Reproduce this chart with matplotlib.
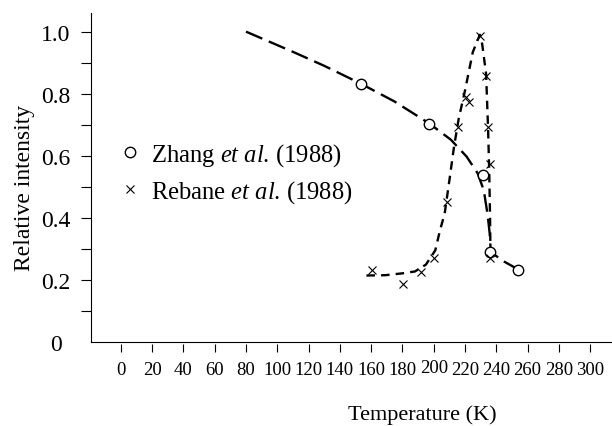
import matplotlib
matplotlib.use('Agg')
import matplotlib.pyplot as plt
import matplotlib.transforms as mtransforms

plt.rcParams['font.family'] = ['Liberation Serif', 'DejaVu Serif']
plt.rcParams['mathtext.fontset'] = 'custom'
plt.rcParams['mathtext.rm'] = 'Liberation Serif'
plt.rcParams['mathtext.it'] = 'Liberation Serif:italic'

# measured points
zhang_t = [153.6, 197.3, 231.4, 236.0, 254.2]
zhang_i = [0.832, 0.704, 0.538, 0.291, 0.234]
rebane_t = [160.7, 180.4, 191.9, 199.9, 208.6, 215.5, 220.8, 222.5, 229.7,
            233.4, 234.7, 235.7, 236.0]
rebane_i = [0.232, 0.187, 0.226, 0.272, 0.452, 0.693, 0.789, 0.773, 0.985,
            0.857, 0.693, 0.575, 0.272]

# hand-drawn guide curves
zhang_curve_t = [80, 110, 130, 153.6, 175, 197.3, 211, 221, 228, 232, 234.5,
                 235.8, 236.5, 245, 254.2]
zhang_curve_i = [1.0, 0.935, 0.89, 0.832, 0.775, 0.704, 0.652, 0.598, 0.545,
                 0.49, 0.41, 0.35, 0.29, 0.26, 0.234]
rebane_curve_t = [157, 169, 180, 188, 195, 201, 204, 207, 210, 213, 216, 220,
                  225, 229.5, 231, 233.5, 234.8, 235.5, 236, 236.3]
rebane_curve_i = [0.215, 0.216, 0.222, 0.228, 0.25, 0.296, 0.36, 0.414, 0.52,
                  0.63, 0.72, 0.81, 0.934, 0.99, 0.96, 0.864, 0.683, 0.55,
                  0.414, 0.29]

x_ticks = list(range(0, 301, 20))
y_major = [0, 0.2, 0.4, 0.6, 0.8, 1.0]
y_labels = ['0', '0.2', '0.4', '0.6', '0.8', '1.0']
y_minor = [0.1, 0.3, 0.5, 0.7, 0.9]

fig = plt.figure(figsize=(6.12, 4.27), dpi=100)
ax = fig.add_axes([90.7 / 612, 1 - 343.3 / 427, 1 - 90.7 / 612, (343.3 - 14) / 427])

ax.plot(zhang_curve_t, zhang_curve_i, color='black', lw=1.7,
        linestyle=(0, (7.5, 3.0)))
ax.plot(rebane_curve_t, rebane_curve_i, color='black', lw=1.7,
        linestyle=(0, (3.6, 2.6)))
ax.plot(zhang_t, zhang_i, 'o', color='black', mfc='white', ms=7.5, mew=1.0,
        label=r'Zhang $\mathit{et\ al}$. (1988)')
ax.plot(rebane_t, rebane_i, 'x', color='black', ms=6, mew=0.8,
        label=r'Rebane $\mathit{et\ al}$. (1988)')

ax.set_xlim(-19.3, 314)
ax.set_ylim(0, 1.06)

for s in ['top', 'right']:
    ax.spines[s].set_visible(False)
ax.spines['left'].set_linewidth(0.8)
ax.spines['bottom'].set_visible(False)
ax.spines['bottom'].set_position(('outward', 1.5))
ax.axhline(0, color='black', lw=0.8, clip_on=False)

ax.set_xticks(x_ticks)
ax.set_xticklabels([str(t) for t in x_ticks])
ax.tick_params(axis='x', direction='out', length=6, width=0.8, pad=6.0,
               labelsize=13.5)
ax.set_yticks(y_major)
ax.set_yticklabels(y_labels, ha='center')
ax.set_yticks(y_minor, minor=True)
ax.tick_params(axis='y', which='both', direction='out', length=7.2, width=0.8)
ax.tick_params(axis='y', which='major', pad=18.1, labelsize=17)
ax.yaxis.get_major_ticks()[0].tick1line.set_visible(False)

# the 200 label sits a little higher in the original
lab200 = ax.get_xticklabels()[x_ticks.index(200)]
lab200.set_transform(lab200.get_transform() +
                     mtransforms.ScaledTranslation(0, 2.5 / 100, fig.dpi_scale_trans))

fig.text(25 / 612, 1 - 187.5 / 427, 'Relative intensity', rotation=90,
         ha='center', va='center', fontsize=17)
fig.text(422 / 612, 1 - 415 / 427, 'Temperature (K)', ha='center',
         va='center', fontsize=16)

ax.legend(loc='center left', bbox_to_anchor=(122.6 / 612, 1 - 174 / 427),
          bbox_transform=fig.transFigure, frameon=False, fontsize=17.7,
          numpoints=1, handlelength=0.6, handletextpad=0.54, borderpad=0,
          borderaxespad=0, labelspacing=0.4)

fig.savefig('out.png', dpi=100)
